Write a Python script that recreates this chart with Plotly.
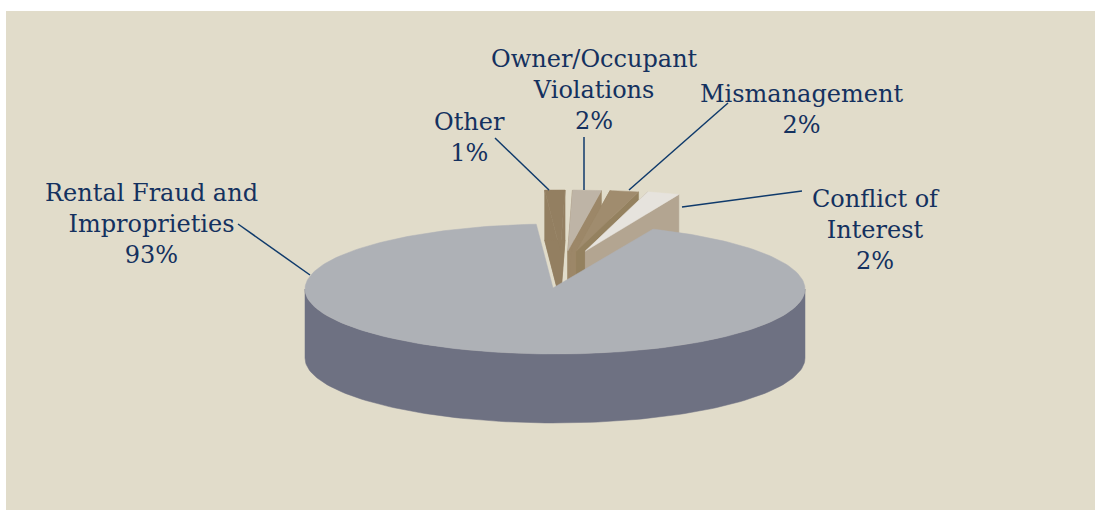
import numpy as np
import plotly.graph_objects as go

# ---- data ----
categories = ["Other", "Owner/Occupant Violations", "Mismanagement", "Conflict of Interest"]
drawn_share = [1.3, 1.85, 1.85, 2.1]          # wedge size in % of the full circle
main_category = "Rental Fraud and Improprieties"
main_share = 92.4
label_pct = {"Rental Fraud and Improprieties": "93%", "Other": "1%",
             "Owner/Occupant Violations": "2%", "Mismanagement": "2%",
             "Conflict of Interest": "2%"}

# ---- style / layout constants ----
W, H = 1095, 510
BG = "#E1DCCA"
CX, CY, RX, RY, DEPTH = 555, 289, 250, 65, 69
START = -3.6          # clockwise degrees from 12 o'clock where the first small wedge begins
W_RY, W_DEPTH = 61, 50
TIP_X, TIP_XK, TIP_Y = 562, 75, 251
TOP = ["#937F61", "#BEB4A6", "#A08C6E", "#E6E3DD"]
WALL = ["#937F61", "#9C8768", "#94815F", "#B3A591"]
MAIN_TOP, MAIN_WALL = "#AEB1B6", "#6E7182"
INK, LINE = "#14315F", "#0F3A6B"


def arc(cx, cy, rx, ry, a0, a1, n=80):
    t = np.radians(np.linspace(a0, a1, n))
    return cx + rx * np.sin(t), cy - ry * np.cos(t)


def poly(fig, x, y, color):
    x, y = list(x), list(y)
    fig.add_trace(go.Scatter(x=x + [x[0]], y=y + [y[0]], mode="lines", fill="toself",
                             fillcolor=color, hoverinfo="skip",
                             line=dict(color=color, width=0.5)))


fig = go.Figure()

# exploded wedges, left to right
a = START
for share, top, wall in zip(drawn_share, TOP, WALL):
    b = a + share * 3.6
    mid = (a + b) / 2
    tx = TIP_X + TIP_XK * np.sin(np.radians(mid))
    ax, ay = arc(tx, TIP_Y, RX, W_RY, a, b, 12)
    # solid below the top surface: two cut faces, outer band, floor
    poly(fig, [tx, ax[0], ax[0], tx], [TIP_Y, ay[0], ay[0] + W_DEPTH, TIP_Y + W_DEPTH], wall)
    poly(fig, [tx, ax[-1], ax[-1], tx], [TIP_Y, ay[-1], ay[-1] + W_DEPTH, TIP_Y + W_DEPTH], wall)
    poly(fig, [tx] + list(ax), [TIP_Y + W_DEPTH] + list(ay + W_DEPTH), wall)
    poly(fig, [tx] + list(ax), [TIP_Y] + list(ay), top)
    a = b

# main slice: side wall then top surface
wx, wy = arc(CX, CY, RX, RY, 90, 270, 120)
poly(fig, list(wx) + list(wx[::-1]), list(wy) + list(wy[::-1] + DEPTH), MAIN_WALL)
main_start = a + 1.1
mx, my = arc(CX, CY, RX, RY, main_start, main_start + main_share * 3.6, 240)
poly(fig, [CX - 2] + list(mx), [CY - 1] + list(my), MAIN_TOP)

# leader lines
leaders = {
    "Other": ([495, 549], [138, 190]),
    "Owner/Occupant Violations": ([584, 584], [137, 190]),
    "Mismanagement": ([728, 629], [103, 190]),
    "Conflict of Interest": ([802, 682], [191, 207]),
    "Rental Fraud and Improprieties": ([238, 310], [224, 275]),
}
for xs, ys in leaders.values():
    fig.add_trace(go.Scatter(x=xs, y=ys, mode="lines", hoverinfo="skip", line=dict(color=LINE, width=1.5)))

labels = [
    ("Other", "Other", 469, 137),
    ("Owner/Occupant Violations", "Owner/Occupant<br>Violations", 594, 90),
    ("Mismanagement", "Mismanagement", 801, 109),
    ("Conflict of Interest", "Conflict of<br>Interest", 876, 230),
    (main_category, "Rental Fraud and<br>Improprieties", 151, 224),
]
for key, text, x, y in labels:
    fig.add_annotation(x=x, y=y, text=text + "<br>" + label_pct[key], showarrow=False, align="center",
                       xanchor="center", yanchor="middle", font=dict(family="DejaVu Serif", size=24, color=INK))

fig.update_layout(
    width=W, height=H, margin=dict(l=0, r=0, t=0, b=0), showlegend=False,
    paper_bgcolor="white", plot_bgcolor="white",
    xaxis=dict(range=[0, W], visible=False, fixedrange=True),
    yaxis=dict(range=[H, 0], visible=False, fixedrange=True),
    shapes=[dict(type="rect", xref="x", yref="y", x0=6, x1=W, y0=11, y1=H, fillcolor=BG, line_width=0, layer="below")],
)
fig.write_html("out.html", config={"displayModeBar": False},
               post_script="document.body.style.margin='0';document.documentElement.style.overflow='hidden';")
